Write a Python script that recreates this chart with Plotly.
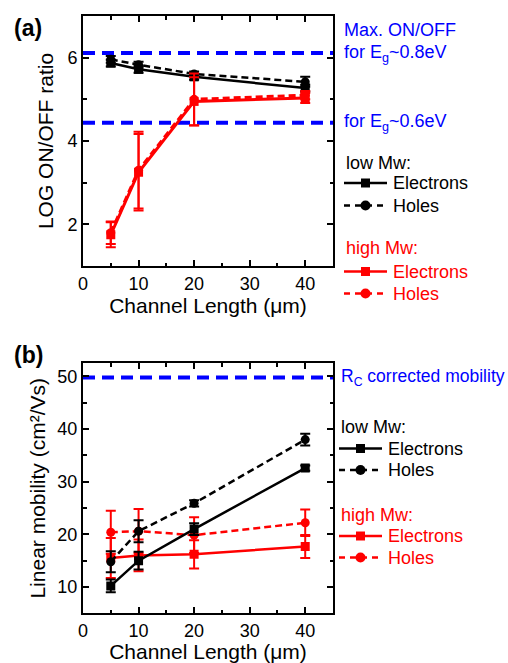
import plotly.graph_objects as go

# ---------------- data ----------------
LENGTHS = [5, 10, 20, 40]

# (a) LOG ON/OFF ratio
A_LOW_E = [5.87, 5.72, 5.54, 5.27]
A_LOW_E_ERR = [0.08, 0.08, 0.07, 0.08]
A_LOW_H = [5.96, 5.83, 5.61, 5.42]
A_LOW_H_ERR = [0.08, 0.07, 0.06, 0.12]
A_HIGH_E = [1.75, 3.25, 4.95, 5.03]
A_HIGH_E_ERR = [0.30, 0.92, 0.58, 0.12]
A_HIGH_H = [1.80, 3.30, 5.00, 5.10]
A_HIGH_H_ERR = [0.27, 0.92, 0.62, 0.10]
A_REF = [6.11, 4.44]
A_REF_LABELS = ["for E<sub>g</sub>~0.8eV", "for E<sub>g</sub>~0.6eV"]
A_REF_TOP_LABEL = "Max. ON/OFF"

# (b) Linear mobility
B_LOW_E = [10.2, 15.0, 21.0, 32.6]
B_LOW_E_ERR = [1.2, 1.7, 1.1, 0.5]
B_LOW_H = [14.8, 20.6, 25.9, 38.0]
B_LOW_H_ERR = [2.0, 2.1, 0.6, 1.1]
B_HIGH_E = [15.5, 16.0, 16.2, 17.7]
B_HIGH_E_ERR = [3.8, 3.0, 2.7, 2.2]
B_HIGH_H = [20.4, 20.6, 19.85, 22.2]
B_HIGH_H_ERR = [4.1, 4.2, 3.4, 2.5]
B_REF = [49.8]
B_REF_LABELS = ["R<sub>C</sub> corrected mobility"]

SERIES_NAMES = ["Electrons", "Holes"]
GROUP_TITLES = ["low Mw:", "high Mw:"]

BLACK = "#000000"
RED = "#ff0000"
BLUE = "#0000ff"
FONT = "Liberation Sans, Arial, sans-serif"
W, H = 508, 663

fig = go.Figure()


def add_series(y, err, color, dash, symbol, name, yaxis, lw):
    fig.add_trace(go.Scatter(
        x=LENGTHS, y=y, yaxis=yaxis, xaxis="x" if yaxis == "y" else "x2",
        mode="lines+markers", name=name, showlegend=False,
        line=dict(color=color, width=lw, dash=dash),
        marker=dict(symbol=symbol, size=9, color=color),
        error_y=dict(type="data", array=err, visible=True, color=color,
                     thickness=2, width=5),
    ))


DASH = "7px,4px"
# panel (a)
add_series(A_LOW_E, A_LOW_E_ERR, BLACK, "solid", "square", SERIES_NAMES[0], "y", 2.5)
add_series(A_LOW_H, A_LOW_H_ERR, BLACK, DASH, "circle", SERIES_NAMES[1], "y", 2.5)
add_series(A_HIGH_E, A_HIGH_E_ERR, RED, "solid", "square", SERIES_NAMES[0], "y", 3)
add_series(A_HIGH_H, A_HIGH_H_ERR, RED, DASH, "circle", SERIES_NAMES[1], "y", 3)

# panel (b)
add_series(B_HIGH_E, B_HIGH_E_ERR, RED, "solid", "square", SERIES_NAMES[0], "y2", 2.5)
add_series(B_HIGH_H, B_HIGH_H_ERR, RED, DASH, "circle", SERIES_NAMES[1], "y2", 2.5)
add_series(B_LOW_E, B_LOW_E_ERR, BLACK, "solid", "square", SERIES_NAMES[0], "y2", 2.5)
add_series(B_LOW_H, B_LOW_H_ERR, BLACK, DASH, "circle", SERIES_NAMES[1], "y2", 2.5)

# reference lines
for v in A_REF:
    fig.add_shape(type="line", xref="x domain", yref="y", x0=0, x1=1, y0=v, y1=v,
                  line=dict(color=BLUE, width=4, dash="12px,7px"), layer="below")
for v in B_REF:
    fig.add_shape(type="line", xref="x2 domain", yref="y2", x0=0, x1=1, y0=v, y1=v,
                  line=dict(color=BLUE, width=4, dash="12px,7px"), layer="below")

TXT = 18
for v, t in zip(A_REF, A_REF_LABELS):
    fig.add_annotation(x=342 / W, xref="paper", y=v, yref="y", text=t, showarrow=False,
                       xanchor="left", yanchor="middle",
                       font=dict(color=BLUE, size=TXT, family=FONT))
fig.add_annotation(x=342 / W, xref="paper", y=A_REF[0], yref="y", text=A_REF_TOP_LABEL,
                   showarrow=False, xanchor="left", yanchor="middle", yshift=23,
                   font=dict(color=BLUE, size=TXT, family=FONT))
for v, t in zip(B_REF, B_REF_LABELS):
    fig.add_annotation(x=339 / W, xref="paper", y=v, yref="y2", text=t, showarrow=False,
                       xanchor="left", yanchor="middle",
                       font=dict(color=BLUE, size=TXT - 0.5, family=FONT))


# hand-made legends (pixel layout of the legend block)
def legend_block(x0, title_ys, rows, title_x):
    for (ty, color, text) in title_ys:
        fig.add_annotation(x=title_x / W, xref="paper", y=1 - ty / H, yref="paper", text=text,
                           showarrow=False, xanchor="left", yanchor="middle",
                           font=dict(color=color, size=TXT, family=FONT))
    for (ry, color, dash, symbol, label) in rows:
        yp = 1 - ry / H
        fig.add_shape(type="line", xref="paper", yref="paper", x0=x0 / W, x1=(x0 + 43) / W,
                      y0=yp, y1=yp, line=dict(color=color, width=2.5,
                                              dash="solid" if dash == "solid" else "6px,5px"))
        cx = x0 + 21.5
        if symbol == "square":
            fig.add_shape(type="rect", xref="paper", yref="paper",
                          x0=(cx - 4.5) / W, x1=(cx + 4.5) / W,
                          y0=1 - (ry + 4.5) / H, y1=1 - (ry - 4.5) / H,
                          fillcolor=color, line=dict(width=0))
        else:
            fig.add_shape(type="circle", xref="paper", yref="paper",
                          x0=(cx - 5) / W, x1=(cx + 5) / W,
                          y0=1 - (ry + 5) / H, y1=1 - (ry - 5) / H,
                          fillcolor=color, line=dict(width=0))
        fig.add_annotation(x=(x0 + 47) / W, xref="paper", y=yp, yref="paper", text=label,
                           showarrow=False, xanchor="left", yanchor="middle",
                           font=dict(color=color, size=TXT, family=FONT))


legend_block(344, [(163, BLACK, GROUP_TITLES[0]), (248, RED, GROUP_TITLES[1])],
             [(183, BLACK, "solid", "square", SERIES_NAMES[0]),
              (205.5, BLACK, "dash", "circle", SERIES_NAMES[1]),
              (271.5, RED, "solid", "square", SERIES_NAMES[0]),
              (293.5, RED, "dash", "circle", SERIES_NAMES[1])], 344)
legend_block(339, [(426.5, BLACK, GROUP_TITLES[0]), (514.5, RED, GROUP_TITLES[1])],
             [(448.5, BLACK, "solid", "square", SERIES_NAMES[0]),
              (470, BLACK, "dash", "circle", SERIES_NAMES[1]),
              (536, RED, "solid", "square", SERIES_NAMES[0]),
              (557.5, RED, "dash", "circle", SERIES_NAMES[1])], 339)

# panel labels
fig.add_annotation(x=12 / W, xref="paper", y=1 - 13 / H, yref="paper", text="<b>(a)</b>",
                   showarrow=False, xanchor="left", yanchor="top",
                   font=dict(size=23, family=FONT, color=BLACK))
fig.add_annotation(x=12 / W, xref="paper", y=1 - 340 / H, yref="paper", text="<b>(b)</b>",
                   showarrow=False, xanchor="left", yanchor="top",
                   font=dict(size=23, family=FONT, color=BLACK))

XDOM = [83 / W, 333 / W]
axis_common = dict(showline=True, linewidth=2, linecolor=BLACK, mirror="ticks",
                   ticks="inside", ticklen=6, tickwidth=1.5, tickcolor=BLACK,
                   showgrid=False, zeroline=False, automargin=False,
                   tickfont=dict(size=18, family=FONT, color=BLACK))
xcommon = dict(axis_common, range=[0, 45], tick0=0, dtick=10,
               minor=dict(dtick=5, ticks="inside", ticklen=3.5, tickwidth=1.5, tickcolor=BLACK),
               title=dict(text="Channel Length (μm)", font=dict(size=21, family=FONT, color=BLACK),
                          standoff=4))

fig.update_layout(
    width=W, height=H, autosize=False,
    margin=dict(l=0, r=0, t=0, b=0, autoexpand=False),
    paper_bgcolor="white", plot_bgcolor="white",
    font=dict(family=FONT, color=BLACK),
    showlegend=False,
    xaxis=dict(xcommon, domain=XDOM, anchor="y"),
    xaxis2=dict(xcommon, domain=XDOM, anchor="y2"),
    yaxis=dict(axis_common, domain=[1 - 266 / H, 1 - 16 / H], anchor="x",
               range=[1, 7], tick0=0, dtick=2,
               minor=dict(dtick=1, ticks="inside", ticklen=3.5, tickwidth=1.5, tickcolor=BLACK),
               title=dict(text="LOG ON/OFF ratio", font=dict(size=21, family=FONT, color=BLACK),
                          standoff=8)),
    yaxis2=dict(axis_common, domain=[1 - 613.3 / H, 1 - 363.3 / H], anchor="x2",
                range=[5, 52.5], tick0=0, dtick=10,
                minor=dict(dtick=5, ticks="inside", ticklen=3.5, tickwidth=1.5, tickcolor=BLACK),
                title=dict(text="Linear mobility (cm²/Vs)", font=dict(size=21, family=FONT, color=BLACK),
                           standoff=6)),
)

fig.write_html("out.html", config={"displayModeBar": False},
               post_script="document.body.style.margin='0px';")
